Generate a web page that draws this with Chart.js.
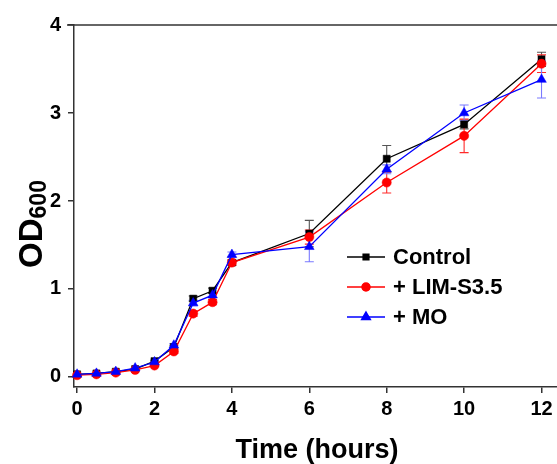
<!DOCTYPE html>
<html>
<head>
<meta charset="utf-8">
<script src="https://cdn.jsdelivr.net/npm/chart.js@4.4.1/dist/chart.umd.min.js"></script>
<style>
  html, body { margin: 0; padding: 0; background: #fff; }
  #wrap { width: 557px; height: 464px; }
</style>
</head>
<body>
<div id="wrap"><canvas id="c" width="557" height="464"></canvas></div>
<script>
// ---- Data ----
const hours = [0, 0.5, 1, 1.5, 2, 2.5, 3, 3.5, 4, 6, 8, 10, 12];
const seriesNames = ['Control', '+ LIM-S3.5', '+ MO'];
const control = [0.03, 0.04, 0.06, 0.09, 0.18, 0.34, 0.89, 0.98, 1.30, 1.63, 2.48, 2.87, 3.61];
const limS35  = [0.02, 0.03, 0.05, 0.08, 0.13, 0.29, 0.72, 0.85, 1.30, 1.59, 2.21, 2.74, 3.56];
const mo      = [0.03, 0.04, 0.06, 0.10, 0.17, 0.36, 0.84, 0.93, 1.39, 1.48, 2.36, 3.00, 3.38];
const controlErr = [0, 0, 0, 0, 0.01, 0.02, 0.03, 0.03, 0.03, 0.15, 0.15, 0.05, 0.08];
const limErr     = [0, 0, 0, 0, 0.01, 0.02, 0.03, 0.03, 0.03, 0.08, 0.12, 0.19, 0.10];
const moErr      = [0, 0, 0, 0, 0.01, 0.02, 0.03, 0.03, 0.03, 0.17, 0.05, 0.09, 0.21];
const xTickValues = [0, 2, 4, 6, 8, 10, 12];
const yTickValues = [0, 1, 2, 3, 4];
const xAxisTitle = 'Time (hours)';
const yAxisTitleMain = 'OD';
const yAxisTitleSub = '600';

// ---- Styles ----
const FONT = "'Liberation Sans', Arial, Helvetica, sans-serif";
const AXIS = '#333333';
const colors = ['#000000', '#ff0000', '#0000ff'];
const errColors = ['#555555', '#ff2a2a', '#7a7aff'];
const styles = ['rect', 'circle', 'triangle'];
const radii = [5, 4.6, 5.6];
const legendRadii = [4, 4, 5];
const values = [control, limS35, mo];
const errs = [controlErr, limErr, moErr];

const datasets = values.map((vals, i) => ({
  label: seriesNames[i],
  data: hours.map((h, j) => ({ x: h, y: vals[j] })),
  borderColor: colors[i],
  backgroundColor: colors[i],
  pointBackgroundColor: colors[i],
  pointBorderColor: colors[i],
  pointBorderWidth: 0.5,
  pointStyle: styles[i],
  pointRadius: radii[i],
  borderWidth: 1.3,
  tension: 0,
  clip: false,
  order: 3 - i
}));

const decor = {
  id: 'decor',
  beforeDatasetsDraw(chart) {
    const ctx = chart.ctx;
    const xs = chart.scales.x, ys = chart.scales.y;
    ctx.save();
    ctx.lineWidth = 1.1;
    values.forEach((vals, i) => {
      ctx.strokeStyle = errColors[i];
      vals.forEach((v, j) => {
        const e = errs[i][j];
        if (!e) return;
        const x = xs.getPixelForValue(hours[j]);
        const yt = ys.getPixelForValue(v + e);
        const yb = ys.getPixelForValue(v - e);
        ctx.beginPath();
        ctx.moveTo(x, yt); ctx.lineTo(x, yb);
        ctx.moveTo(x - 4.5, yt); ctx.lineTo(x + 4.5, yt);
        ctx.moveTo(x - 4.5, yb); ctx.lineTo(x + 4.5, yb);
        ctx.stroke();
      });
    });
    ctx.restore();
  },
  afterDraw(chart) {
    const ctx = chart.ctx;
    const xs = chart.scales.x, ys = chart.scales.y;
    const area = chart.chartArea;
    ctx.save();
    // top frame line at y = 4
    const yTop = ys.getPixelForValue(yTickValues[yTickValues.length - 1]);
    ctx.strokeStyle = AXIS;
    ctx.lineWidth = 1.5;
    ctx.beginPath();
    ctx.moveTo(area.left - 7, yTop);
    ctx.lineTo(chart.width, yTop);
    ctx.stroke();

    // legend
    seriesNames.forEach((name, i) => {
      const y = 257 + i * 30;
      ctx.strokeStyle = colors[i];
      ctx.lineWidth = 1.5;
      ctx.beginPath();
      ctx.moveTo(347, y); ctx.lineTo(385, y);
      ctx.stroke();
      ctx.fillStyle = colors[i];
      Chart.helpers.drawPoint(ctx, { pointStyle: styles[i], radius: legendRadii[i], borderWidth: 0.5, rotation: 0 }, 366, y);
      ctx.fill();
      ctx.fillStyle = '#000';
      ctx.font = 'bold 22px ' + FONT;
      ctx.textAlign = 'left';
      ctx.textBaseline = 'middle';
      ctx.fillText(name, 393, y + 1);
    });

    // x title
    ctx.fillStyle = '#000';
    ctx.font = 'bold 27px ' + FONT;
    ctx.textAlign = 'center';
    ctx.textBaseline = 'alphabetic';
    ctx.fillText(xAxisTitle, 317, 458);

    // y title OD600 (rotated, subscript)
    ctx.font = 'bold 33px ' + FONT;
    const wMain = ctx.measureText(yAxisTitleMain).width;
    ctx.font = 'bold 23px ' + FONT;
    const wSub = ctx.measureText(yAxisTitleSub).width;
    const total = wMain + wSub;
    ctx.translate(42, 224 + total / 2);
    ctx.rotate(-Math.PI / 2);
    ctx.textAlign = 'left';
    ctx.font = 'bold 33px ' + FONT;
    ctx.fillText(yAxisTitleMain, 0, 0);
    ctx.font = 'bold 23px ' + FONT;
    ctx.fillText(yAxisTitleSub, wMain, 4);
    ctx.restore();
  }
};

new Chart(document.getElementById('c'), {
  type: 'line',
  data: { datasets },
  plugins: [decor],
  options: {
    responsive: false,
    animation: false,
    devicePixelRatio: 1,
    layout: { autoPadding: false, padding: { top: 25, right: 0, bottom: 0, left: 0 } },
    plugins: { legend: { display: false }, tooltip: { enabled: false } },
    scales: {
      x: {
        type: 'linear',
        min: -0.08,
        max: 12.4,
        afterBuildTicks(scale) { scale.ticks = xTickValues.map(v => ({ value: v })); },
        afterFit(scale) { scale.height = 77; scale.paddingLeft = 0; scale.paddingRight = 0; },
        grid: { drawOnChartArea: false, drawTicks: true, tickLength: 6, color: AXIS, lineWidth: 1.5 },
        border: { display: true, color: AXIS, width: 1.5 },
        ticks: { color: '#000', font: { family: FONT, size: 20, weight: 'bold' }, padding: 4, maxRotation: 0 }
      },
      y: {
        type: 'linear',
        min: -0.114,
        max: 4,
        afterBuildTicks(scale) { scale.ticks = yTickValues.map(v => ({ value: v })); },
        afterFit(scale) { scale.width = 74; scale.paddingTop = 0; scale.paddingBottom = 0; },
        grid: { drawOnChartArea: false, drawTicks: true, tickLength: 6, color: AXIS, lineWidth: 1.5 },
        border: { display: true, color: AXIS, width: 1.5 },
        ticks: { color: '#000', font: { family: FONT, size: 20, weight: 'bold' }, padding: 7 }
      }
    }
  }
});
</script>
</body>
</html>
